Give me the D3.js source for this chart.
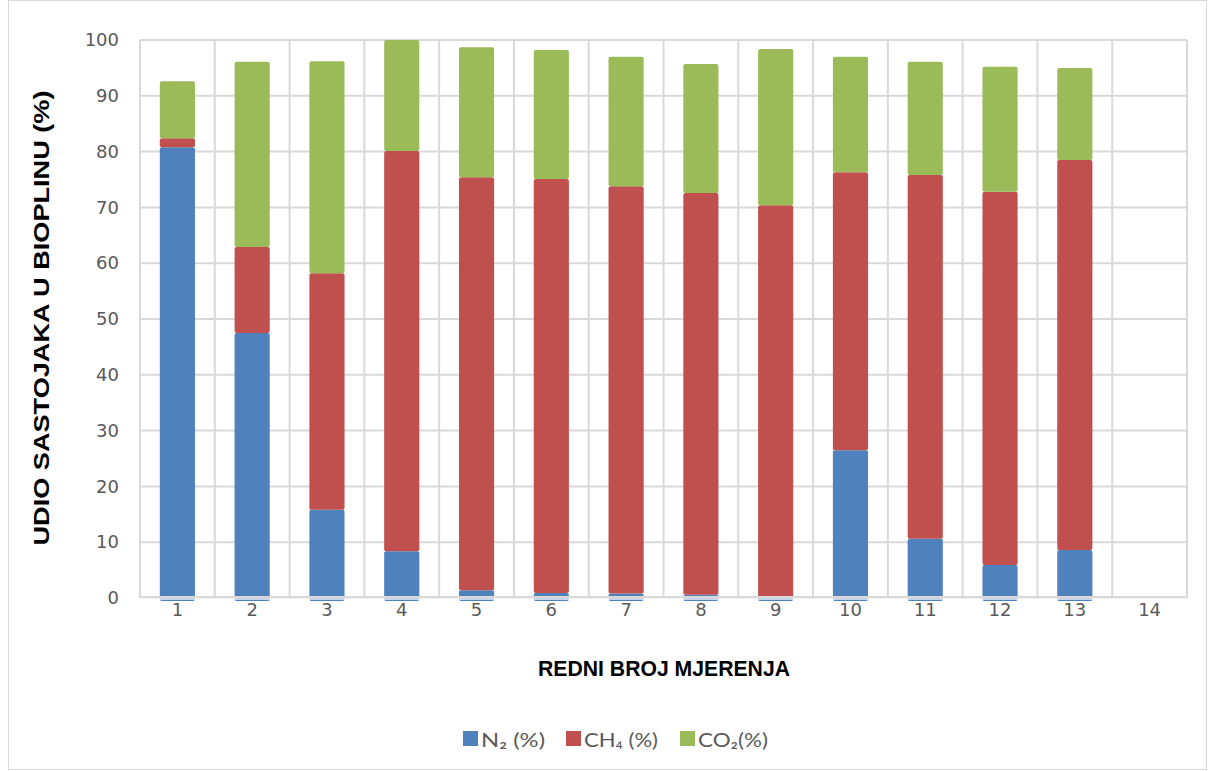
<!DOCTYPE html>
<html><head><meta charset="utf-8">
<script src="https://cdn.jsdelivr.net/npm/d3@7"></script>
<style>body{margin:0;background:#fff}</style>
</head><body>
<svg id="c" width="1208" height="771"></svg>
<script>
const categories = ["1","2","3","4","5","6","7","8","9","10","11","12","13","14"];
const n2  = [80.8, 47.5, 15.8, 8.4, 1.4, 0.9, 0.8, 0.6, 0.1, 26.5, 10.6, 5.9, 8.6, 0];
const ch4 = [1.6, 15.4, 42.4, 71.7, 74.0, 74.2, 73.0, 72.0, 70.3, 49.8, 65.2, 66.9, 69.9, 0];
const co2 = [10.2, 33.2, 38.0, 19.9, 23.3, 23.1, 23.2, 23.1, 28.0, 20.7, 20.3, 22.4, 16.5, 0];
const seriesNames = ["N₂ (%)", "CH₄ (%)", "CO₂(%)"];
const yTicks = [0,10,20,30,40,50,60,70,80,90,100];
const colors = ["#4f81bd", "#c0504d", "#9bbb59"];

const svg = d3.select("#c");
svg.append("rect").attr("x",8.5).attr("y",0.5).attr("width",1198).attr("height",769)
  .attr("fill","#fff").attr("stroke","#d9d9d9");

const m = {l:140, r:1187, t:40, b:598};
const x = d3.scaleBand().domain(categories).range([m.l, m.r]).paddingInner(0.53).paddingOuter(0.265);
const xb = d3.scaleBand().domain(categories).range([m.l, m.r]);
const y = d3.scaleLinear().domain([0,100]).range([m.b, m.t]);

// grid
const g = svg.append("g");
g.selectAll(".h").data(yTicks).join("line")
  .attr("x1",m.l).attr("x2",m.r).attr("y1",d=>y(d)).attr("y2",d=>y(d))
  .attr("stroke","#d9d9d9").attr("stroke-width",2);
g.selectAll(".v").data(categories.concat(["end"])).join("line")
  .attr("x1",(d,i)=> i<categories.length ? xb(d) : m.r)
  .attr("x2",(d,i)=> i<categories.length ? xb(d) : m.r)
  .attr("y1",m.t).attr("y2",m.b).attr("stroke","#d9d9d9").attr("stroke-width",2);

// stacked data
const rows = categories.map((c,i)=>({cat:c, n2:n2[i], ch4:ch4[i], co2:co2[i]}));
const stack = d3.stack().keys(["n2","ch4","co2"])(rows);
stack.forEach((s,si)=>{
  svg.append("g").selectAll("rect").data(s.filter(d=>d[1]-d[0]>0)).join("rect")
    .attr("x",d=>x(d.data.cat))
    .attr("width",x.bandwidth())
    .attr("y",d=>y(d[1]))
    .attr("height",d=>y(d[0])-y(d[1]) + (si===0?3:0))
    .attr("rx",2)
    .attr("fill",colors[si]);
});
// axis baseline
svg.append("line").attr("x1",m.l).attr("x2",m.r).attr("y1",y(0)-1).attr("y2",y(0)-1)
  .attr("stroke","#d9d9d9").attr("stroke-width",2);
svg.append("line").attr("x1",m.l).attr("x2",m.r).attr("y1",y(0)+1).attr("y2",y(0)+1)
  .attr("stroke","#fff").attr("stroke-width",1.5).attr("opacity",0.9);

// y axis labels
const yAxis = d3.axisLeft(y).tickValues(yTicks).tickSize(0).tickPadding(0);
const ya = svg.append("g").attr("transform",`translate(${m.l-21},0)`).call(yAxis);
ya.select(".domain").remove();
ya.selectAll("text").attr("font-family","DejaVu Sans, Verdana, sans-serif").attr("font-size",18).attr("fill","#595959");

// x axis labels
const xAxis = d3.axisBottom(x).tickSize(0).tickPadding(0);
const xa = svg.append("g").attr("transform",`translate(0,${m.b+5})`).call(xAxis);
xa.select(".domain").remove();
xa.selectAll("text").attr("font-family","DejaVu Sans, Verdana, sans-serif").attr("font-size",18).attr("fill","#595959");

// titles
svg.append("text").attr("x",664).attr("y",676).attr("text-anchor","middle")
  .attr("font-family","Liberation Sans, Arial, sans-serif").attr("font-weight","bold")
  .attr("font-size",22).attr("textLength",252).attr("lengthAdjust","spacingAndGlyphs")
  .attr("fill","#000").text("REDNI BROJ MJERENJA");
svg.append("text").attr("transform",`translate(49,${318}) rotate(-90)`).attr("text-anchor","middle")
  .attr("font-family","Liberation Sans, Arial, sans-serif").attr("font-weight","bold")
  .attr("font-size",22).attr("textLength",455).attr("lengthAdjust","spacingAndGlyphs")
  .attr("fill","#000").text("UDIO SASTOJAKA U BIOPLINU (%)");

// legend
const legX = [463, 566, 680];
const legW = [64, 74, 70];
const lg = svg.append("g");
seriesNames.forEach((nm,i)=>{
  lg.append("rect").attr("x",legX[i]).attr("y",731).attr("width",15).attr("height",15).attr("fill",colors[i]);
  lg.append("text").attr("x",legX[i]+18).attr("y",746.5).attr("font-family","Lato, Open Sans, sans-serif")
    .attr("font-size",20).attr("textLength",legW[i]).attr("lengthAdjust","spacingAndGlyphs")
    .attr("fill","#595959").text(nm);
});
</script>
</body></html>
